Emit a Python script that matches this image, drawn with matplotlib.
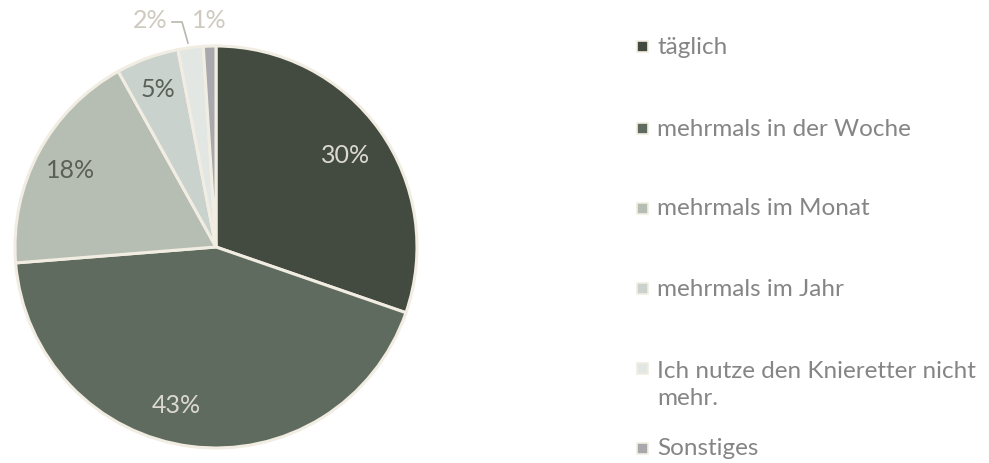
import numpy as np
import matplotlib.pyplot as plt

# Data
categories = ['täglich', 'mehrmals in der Woche', 'mehrmals im Monat',
              'mehrmals im Jahr', 'Ich nutze den Knieretter nicht\nmehr.', 'Sonstiges']
values = [30, 43, 18, 5, 2, 1]
pct_labels = ['30%', '43%', '18%', '5%', '2%', '1%']

colors = ['#434b40', '#5f6b5e', '#b6bdb3', '#c9d2cc', '#e3e7e4', '#a8a8ad']
label_colors = ['#dcd9cf', '#dcd9cf', '#5a6058', '#5a6058', '#cfcac0', '#cfcac0']
edge = '#f1ede2'

plt.rcParams['font.family'] = ['Lato', 'DejaVu Sans']

fig = plt.figure(figsize=(9.89, 4.64), dpi=100)
ax = fig.add_axes([0, 0, 1, 1])

cx, cy, r = 216, 464 - 248, 201
wedges, _ = ax.pie(values, colors=colors, startangle=90, counterclock=False,
                   center=(cx, cy), radius=r, frame=True,
                   wedgeprops=dict(edgecolor=edge, linewidth=2.2))
ax.set_xlim(0, 989)
ax.set_ylim(0, 464)
ax.set_aspect('equal')
ax.axis('off')

# percentage labels: inside for big slices, outside for small ones
dist = [0.79, 0.81, 0.82, 0.84]
for i, w in enumerate(wedges[:4]):
    ang = np.deg2rad((w.theta1 + w.theta2) / 2)
    if i == 1:
        ang -= np.deg2rad(7)
    x = cx + r * dist[i] * np.cos(ang)
    y = cy + r * dist[i] * np.sin(ang)
    ax.text(x, y, pct_labels[i], ha='center', va='center', fontsize=18,
            color=label_colors[i])

ax.text(150, 464 - 20, pct_labels[4], ha='center', va='center', fontsize=18,
        color=label_colors[4])
ax.text(209, 464 - 20, pct_labels[5], ha='center', va='center', fontsize=18,
        color=label_colors[5])
ax.plot([172, 182, 188], [464 - 23, 464 - 23, 464 - 44], color='#b9b6ae', lw=1.2)

# legend drawn by hand to keep the uneven spacing
leg_y = [47, 129, 209, 289, 369, 449]
for lab, col, y in zip(categories, colors, leg_y):
    ax.add_patch(plt.Rectangle((637, 464 - y - 5.5), 11, 11, facecolor=col,
                               edgecolor=edge, lw=1.2))
    ty = y + 16 if '\n' in lab else y
    ax.text(657, 464 - ty, lab, ha='left', va='center',
            fontsize=17.5, color='#858585', linespacing=1.3)

fig.savefig('out.png', dpi=100, facecolor='white')
